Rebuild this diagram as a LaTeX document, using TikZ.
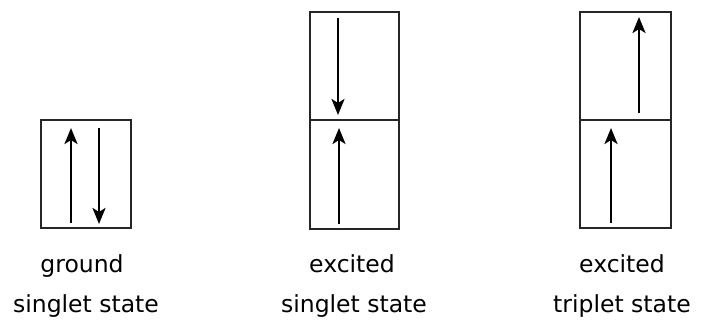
\documentclass[tikz,border=0pt]{standalone}
\usepackage{fontspec}
\setmainfont{DejaVu Sans}
\usetikzlibrary{arrows.meta}
\begin{document}
\begin{tikzpicture}[x=1pt,y=-1pt,
  box/.style={draw=black!85,line width=1.6pt},
  spin/.style={line width=2.6pt,-{Stealth[length=16pt,width=13pt,inset=4pt]}},
  lbl/.style={font=\fontsize{23.5}{28}\selectfont,inner sep=0pt,anchor=base}]
\useasboundingbox (0,0) rectangle (703,323);
% ground
\draw[box] (41,120) rectangle (131,228);
\coordinate (g1a) at (71,223); \coordinate (g1b) at (71,128);
\coordinate (g2a) at (99,128); \coordinate (g2b) at (99,224);
\draw[spin] (g1a) -- (g1b);
\draw[spin] (g2a) -- (g2b);
% excited singlet
\draw[box] (310,12) rectangle (399,229);
\draw[box] (310,120) -- (399,120);
\coordinate (e1a) at (338,18); \coordinate (e1b) at (338,115);
\coordinate (e2a) at (339,224); \coordinate (e2b) at (339,128);
\draw[spin] (e1a) -- (e1b);
\draw[spin] (e2a) -- (e2b);
% excited triplet
\draw[box] (580,12) rectangle (671,228);
\draw[box] (580,120) -- (671,120);
\coordinate (t1a) at (639,113); \coordinate (t1b) at (639,17);
\coordinate (t2a) at (611,223); \coordinate (t2b) at (611,128);
\draw[spin] (t1a) -- (t1b);
\draw[spin] (t2a) -- (t2b);
% labels
\node[lbl] (l1a) at (82,272) {ground};
\node[lbl] (l1b) at (86,312) {singlet state};
\node[lbl] (l2a) at (352,272) {excited};
\node[lbl] (l2b) at (354,312) {singlet state};
\node[lbl] (l3a) at (622,272) {excited};
\node[lbl] (l3b) at (622,312) {triplet state};
\end{tikzpicture}
\end{document}
